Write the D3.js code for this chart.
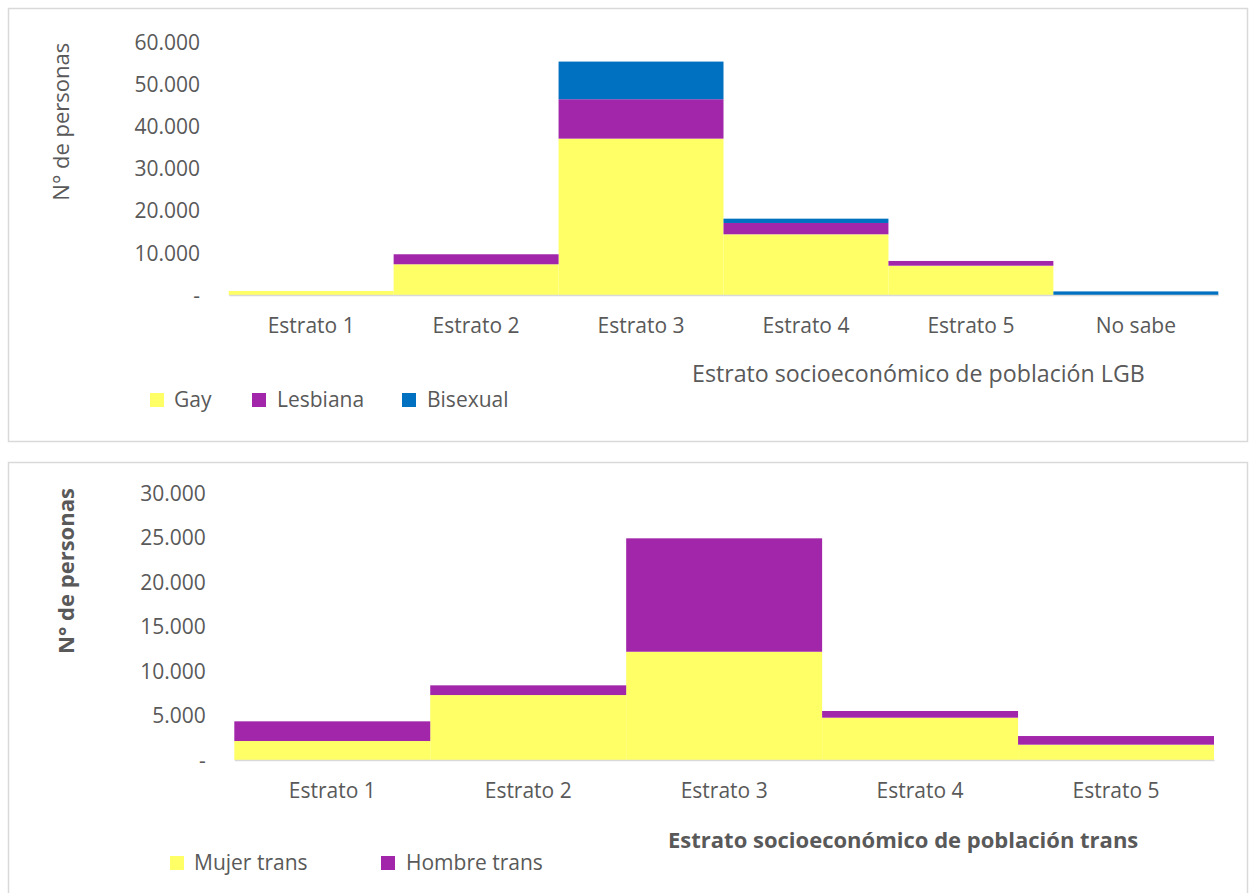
<!DOCTYPE html>
<html>
<head>
<meta charset="utf-8">
<script src="https://cdn.jsdelivr.net/npm/d3@7"></script>
<style>
  html, body { margin: 0; padding: 0; background: #ffffff; }
  svg { display: block; }
  text { font-family: "Open Sans", "Noto Sans", sans-serif; fill: #595959; }
</style>
</head>
<body>
<svg id="chart" width="1249" height="893"></svg>
<script>
// ---------- DATA ----------
const lgbCategories = ["Estrato 1", "Estrato 2", "Estrato 3", "Estrato 4", "Estrato 5", "No sabe"];
const lgbSeries = ["Gay", "Lesbiana", "Bisexual"];
const gayValues      = [950, 7280, 37040, 14380, 6940, 0];
const lesbianaValues = [0, 2370, 9330, 2680, 1120, 0];
const bisexualValues = [0, 0, 8920, 1020, 0, 850];
const lgbTicks = [0, 10000, 20000, 30000, 40000, 50000, 60000];

const transCategories = ["Estrato 1", "Estrato 2", "Estrato 3", "Estrato 4", "Estrato 5"];
const transSeries = ["Mujer trans", "Hombre trans"];
const mujerTransValues  = [2130, 7290, 12150, 4750, 1720];
const hombreTransValues = [2210, 1090, 12730, 750, 970];
const transTicks = [0, 5000, 10000, 15000, 20000, 25000, 30000];

// ---------- HELPERS ----------
const locale = d3.formatLocale({ decimal: ",", thousands: ".", grouping: [3], currency: ["$", ""] });
const fmtNum = locale.format(",");
const tickFmt = d => d === 0 ? "-" : fmtNum(d);

const svg = d3.select("#chart");

function drawPanel(cfg) {
  const g = svg.append("g");

  // panel frame
  g.append("rect")
    .attr("x", cfg.frame[0]).attr("y", cfg.frame[1])
    .attr("width", cfg.frame[2]).attr("height", cfg.frame[3])
    .attr("fill", "#ffffff").attr("stroke", "#d9d9d9").attr("stroke-width", 1.5);

  const x = d3.scaleBand().domain(cfg.categories).range(cfg.xRange).paddingInner(0).paddingOuter(0);
  const y = d3.scaleLinear().domain([0, cfg.yMax]).range(cfg.yRange);

  const rows = cfg.categories.map((c, i) => {
    const r = { cat: c };
    cfg.series.forEach((s, j) => { r[s] = cfg.values[j][i]; });
    return r;
  });
  const stack = d3.stack().keys(cfg.series)(rows);

  // bars
  g.append("g").selectAll("g").data(stack).join("g")
    .attr("fill", (d, i) => cfg.colors[i])
    .selectAll("rect").data(d => d).join("rect")
    .attr("x", d => x(d.data.cat))
    .attr("width", x.bandwidth())
    .attr("y", d => y(d[1]))
    .attr("height", d => Math.max(0, y(d[0]) - y(d[1])));

  // x axis
  const xa = g.append("g")
    .attr("transform", `translate(0,${cfg.yRange[0]})`)
    .call(d3.axisBottom(x).tickSize(0).tickSizeOuter(0));
  xa.select(".domain").attr("stroke", "#d9d9d9").attr("stroke-width", 1.5);
  xa.selectAll("text")
    .attr("y", cfg.xLabelOffset).attr("dy", "0.35em")
    .style("font-family", "'Open Sans', sans-serif")
    .style("font-size", cfg.fontSize + "px").style("fill", "#595959");

  // y axis
  const ya = g.append("g")
    .attr("transform", `translate(${cfg.xRange[0]},0)`)
    .call(d3.axisLeft(y).tickValues(cfg.ticks).tickFormat(tickFmt).tickSize(0).tickPadding(cfg.xRange[0] - cfg.yLabelRight));
  ya.select(".domain").remove();
  ya.selectAll("text")
    .attr("dy", "0.35em")
    .style("font-family", "'Open Sans', sans-serif")
    .style("font-size", cfg.fontSize + "px").style("fill", "#595959");

  // y title
  g.append("text")
    .attr("transform", `translate(${cfg.yTitlePos[0]},${cfg.yTitlePos[1]}) rotate(-90)`)
    .attr("text-anchor", "middle").attr("dy", "0.35em")
    .style("font-size", cfg.yTitleSize + "px")
    .style("font-weight", cfg.bold ? "700" : "400")
    .text("N° de personas");

  // x title
  g.append("text")
    .attr("x", cfg.xTitlePos[0]).attr("y", cfg.xTitlePos[1])
    .attr("text-anchor", "start").attr("dy", "0.35em")
    .style("font-size", cfg.xTitleSize + "px")
    .style("font-weight", cfg.bold ? "700" : "400")
    .text(cfg.xTitle);

  // legend
  const lg = g.append("g");
  cfg.series.forEach((s, i) => {
    lg.append("rect")
      .attr("x", cfg.legendSquares[i]).attr("y", cfg.legendY - 7)
      .attr("width", 14).attr("height", 14)
      .attr("fill", cfg.colors[i]);
    lg.append("text")
      .attr("x", cfg.legendTexts[i]).attr("y", cfg.legendY)
      .attr("dy", "0.35em")
      .style("font-size", cfg.fontSize + "px")
      .text(s);
  });
}

drawPanel({
  frame: [8.5, 8.5, 1239, 433],
  categories: lgbCategories,
  series: lgbSeries,
  values: [gayValues, lesbianaValues, bisexualValues],
  colors: ["#ffff66", "#a226aa", "#0070c0"],
  ticks: lgbTicks,
  yMax: 60000,
  xRange: [228.7, 1218.3],
  yRange: [295, 41.7],
  yLabelRight: 200,
  xLabelOffset: 31,
  fontSize: 21,
  yTitlePos: [61, 121.7],
  yTitleSize: 22,
  xTitle: "Estrato socioeconómico de población LGB",
  xTitlePos: [692, 374],
  xTitleSize: 23.2,
  bold: false,
  legendY: 400,
  legendSquares: [150, 252, 402],
  legendTexts: [174, 277, 427]
});

drawPanel({
  frame: [8.5, 462.5, 1239, 440],
  categories: transCategories,
  series: transSeries,
  values: [mujerTransValues, hombreTransValues],
  colors: ["#ffff66", "#a226aa"],
  ticks: transTicks,
  yMax: 30000,
  xRange: [234.3, 1214],
  yRange: [760, 492.7],
  yLabelRight: 205.7,
  xLabelOffset: 31,
  fontSize: 21,
  yTitlePos: [66, 571],
  yTitleSize: 22,
  xTitle: "Estrato socioeconómico de población trans",
  xTitlePos: [668, 840],
  xTitleSize: 22,
  bold: true,
  legendY: 863,
  legendSquares: [170, 381],
  legendTexts: [194, 406]
});
</script>
</body>
</html>
